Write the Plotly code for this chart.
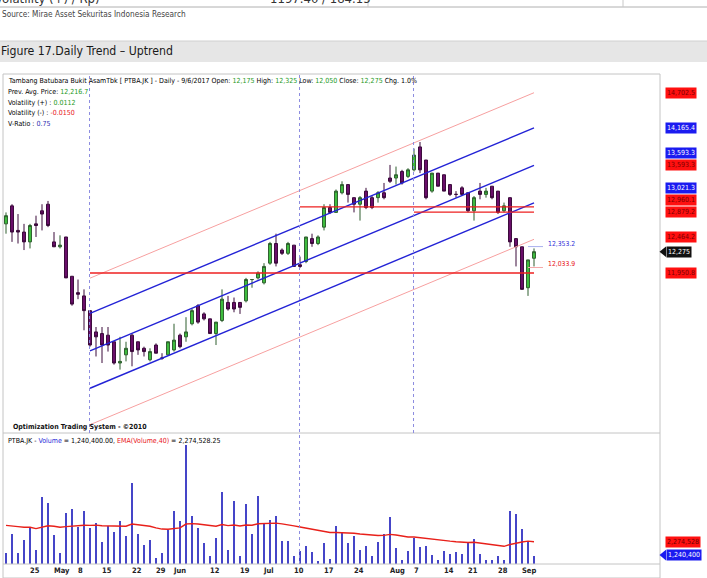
import plotly.graph_objects as go

# ---------------- data ----------------
days = list(range(1, 90))
opens = [12700, 12975, 12600, 12575, 12425, 12700, 12900, 13000, 12425, 12350,
         12500, 11900, 11650, 11600, 11375, 11050, 11025, 11000, 10900, 10575,
         10700, 11000, 10900, 10800, 10625, 10850, 10650, 10700, 10775, 11000,
         10975, 11175, 11450, 11325, 11250, 11025, 11225, 11500, 11500, 11500,
         11525, 11850, 11875, 11800, 12100, 12400, 12300, 12250, 12375, 12075,
         12125, 12475, 12400, 12650, 12950, 12875, 13175, 13300, 13100, 13000,
         13200, 13100, 13100, 13175, 13400, 13400, 13500, 13425, 13525, 13875,
         13675, 13200, 13475, 13450, 13300, 13150, 13250, 13175, 12900, 13200,
         13150, 13275, 13200, 12900, 13100, 12475, 12350, 11725, 12175]
highs = [12875, 13000, 12850, 12700, 12700, 12825, 13000, 13050, 12575, 12525,
         12500, 11900, 11850, 11700, 11375, 11125, 11125, 11125, 10900, 10975,
         10900, 11025, 10900, 10825, 10800, 10875, 10725, 10900, 11175, 11025,
         11275, 11400, 11475, 11350, 11250, 11200, 11700, 11600, 11575, 11500,
         11875, 11850, 11975, 12100, 12425, 12550, 12325, 12425, 12375, 12200,
         12500, 12550, 12525, 13000, 13000, 13225, 13350, 13300, 13100, 13125,
         13250, 13125, 13200, 13325, 13600, 13575, 13525, 13550, 13850, 13950,
         13675, 13475, 13475, 13450, 13300, 13200, 13275, 13175, 13125, 13325,
         13250, 13275, 13200, 13025, 13100, 12475, 12350, 12150, 12325]
lows = [12550, 12425, 12400, 12300, 12325, 12500, 12600, 12650, 12350, 12325,
        11875, 11450, 11550, 11075, 10825, 10675, 10575, 10750, 10550, 10475,
        10600, 10525, 10700, 10675, 10600, 10725, 10625, 10700, 10750, 10800,
        10900, 11150, 11175, 11225, 11025, 10850, 11200, 11375, 11350, 11325,
        11500, 11725, 11850, 11775, 12075, 12050, 12225, 12225, 12050, 12025,
        12100, 12350, 12375, 12600, 12850, 12875, 13150, 13025, 12875, 12750,
        12925, 12925, 13025, 13075, 13325, 13300, 13300, 13400, 13500, 13475,
        13075, 13175, 13275, 13200, 13125, 13100, 13125, 12875, 12750, 13075,
        13100, 13075, 12850, 12875, 12350, 12050, 11700, 11600, 12050]
closes = [12825, 12575, 12575, 12425, 12675, 12675, 12850, 12675, 12350, 12375,
          11875, 11475, 11625, 11375, 10850, 10975, 10850, 10850, 10575, 10600,
          10800, 10750, 10775, 10750, 10750, 10725, 10650, 10900, 10925, 10825,
          11050, 11375, 11200, 11250, 11025, 11200, 11550, 11400, 11400, 11425,
          11850, 11850, 11950, 12050, 12400, 12100, 12250, 12400, 12050, 12050,
          12500, 12400, 12500, 12950, 12875, 13200, 13300, 13150, 13000, 13100,
          12950, 12950, 13175, 13100, 13350, 13450, 13325, 13525, 13750, 13525,
          13100, 13475, 13275, 13200, 13150, 13150, 13150, 12900, 13100, 13150,
          13200, 13100, 12875, 12975, 12425, 12350, 11700, 12150, 12275]
volumes = [1.42, 2.93, 1.40, 2.46, 3.45, 1.71, 5.78, 5.34, 2.82, 1.42,
           4.54, 4.87, 3.45, 4.74, 3.37, 3.81, 2.33, 3.50, 3.11, 3.89,
           2.75, 6.87, 2.88, 2.07, 2.44, 1.06, 1.42, 3.19, 4.69, 3.89,
           9.80, 4.33, 3.37, 2.20, 1.24, 2.57, 6.17, 1.69, 5.52, 1.22,
           5.24, 2.88, 5.88, 3.68, 4.02, 4.33, 2.41, 2.41, 1.24, 1.56,
           1.97, 1.53, 0.78, 2.25, 0.96, 3.50, 3.03, 2.25, 2.75, 1.71,
           1.97, 1.19, 2.28, 2.95, 4.25, 1.81, 0.86, 1.63, 2.64, 1.94,
           2.02, 1.32, 0.86, 1.63, 1.37, 1.53, 1.37, 2.20, 2.49, 1.37,
           0.91, 0.91, 1.24, 0.91, 4.69, 4.48, 3.32, 2.41, 1.2404]
ema40 = [3.55, 3.52, 3.45, 3.40, 3.40, 3.30, 3.42, 3.52, 3.48, 3.40,
         3.45, 3.50, 3.50, 3.56, 3.55, 3.57, 3.52, 3.52, 3.49, 3.51,
         3.48, 3.65, 3.60, 3.53, 3.48, 3.35, 3.26, 3.25, 3.32, 3.35,
         3.65, 3.68, 3.65, 3.58, 3.50, 3.48, 3.61, 3.53, 3.58, 3.50,
         3.58, 3.56, 3.67, 3.67, 3.69, 3.72, 3.66, 3.60, 3.51, 3.42,
         3.34, 3.26, 3.15, 3.10, 2.99, 2.99, 2.98, 2.96, 2.94, 2.88,
         2.84, 2.76, 2.76, 2.77, 2.85, 2.80, 2.69, 2.64, 2.64, 2.58,
         2.55, 2.48, 2.40, 2.36, 2.32, 2.28, 2.23, 2.22, 2.24, 2.17,
         2.10, 2.03, 1.98, 1.92, 2.06, 2.18, 2.25, 2.32, 2.2745]
volumes = [v * 1e6 for v in volumes]
ema40 = [v * 1e6 for v in ema40]

tick_days = [5, 9, 13, 17, 22, 26, 29, 35, 40, 44, 49, 54, 59, 65, 69, 74, 78, 83, 87]
tick_text = ["25", "May", "8", "15", "22", "29", "Jun", "12", "19", "Jul",
             "10", "17", "24", "Aug", "7", "14", "21", "28", "Sep"]

# trend channel (start day, end day, start value, end value)
chan_x = [15, 89]
blue_upper = [11334.0, 14165.4]
blue_mid = [10762.0, 13593.3]
blue_lower = [10190.0, 13021.3]
pink_upper = [11871.0, 14702.5]
pink_lower = [9633.0, 12464.2]
# horizontal support / resistance levels: (start day, value)
hlines_start = [15, 50, 69]
hlines_value = [11950.8, 12960.1, 12879.2]
marker_days = [15, 50, 69]

level_values = [14702.5, 14165.4, 13593.3, 13593.3, 13021.3, 12960.1, 12879.2, 12464.2, 11950.8]
level_kind = ["r", "b", "b", "r", "b", "r", "r", "r", "r"]
last_close = closes[-1]
inline_vals = [12353.2, 12033.9]
prev_avg = 12216.7
vol_pos, vol_neg, v_ratio = 0.0112, -0.0150, 0.75
vol_last = volumes[-1]
ema_last = 2274528.25

# ---------------- geometry helpers ----------------
W, H = 707, 578
PL, PR, PT, PB = 3, 660, 75, 564
MAIN_BOTTOM = 433
VOL_TOP = 434.5


def px(x):
    return (x - PL) / (PR - PL)


def py(y):
    return (PB - y) / (PB - PT)


FONT = "Liberation Sans Narrow, DejaVu Sans Condensed, Roboto Condensed, Arial Narrow, sans-serif"
GREEN = "#1d9a1d"
RED = "#e8141a"
BLUE = "#2a2ad8"

fig = go.Figure()

fig.add_trace(go.Candlestick(
    x=days, open=opens, high=highs, low=lows, close=closes,
    xaxis="x", yaxis="y",
    increasing=dict(line=dict(color="#2f5f2f", width=1), fillcolor="#3fbf3f"),
    decreasing=dict(line=dict(color="#3a0a3a", width=1), fillcolor="#6b0f6b"),
    whiskerwidth=0, showlegend=False, hoverinfo="skip"))

for vals, col, wd in [(pink_upper, "#f7a0a0", 1), (pink_lower, "#f7a0a0", 1),
                      (blue_upper, "#2323d6", 1.4), (blue_mid, "#2323d6", 1.4),
                      (blue_lower, "#2323d6", 1.4)]:
    fig.add_trace(go.Scatter(x=chan_x, y=vals, mode="lines", yaxis="y",
                             line=dict(color=col, width=wd), showlegend=False,
                             hoverinfo="skip"))

for s, v in zip(hlines_start, hlines_value):
    fig.add_trace(go.Scatter(x=[s, chan_x[1]], y=[v, v], mode="lines", yaxis="y",
                             line=dict(color="#ee2020", width=1.4), showlegend=False,
                             hoverinfo="skip"))

for v, col in zip(inline_vals, ["#aab0ee", "#f5a8a8"]):
    fig.add_trace(go.Scatter(x=[88, 90.5], y=[v, v], mode="lines", yaxis="y",
                             line=dict(color=col, width=1), showlegend=False,
                             hoverinfo="skip"))

fig.add_trace(go.Bar(x=days, y=volumes, yaxis="y2", width=0.38,
                     marker=dict(color="#4545c8", line=dict(width=0)),
                     showlegend=False, hoverinfo="skip"))
fig.add_trace(go.Scatter(x=days, y=ema40, yaxis="y2", mode="lines",
                         line=dict(color="#e8201a", width=1.4), showlegend=False,
                         hoverinfo="skip"))

shapes = []
# page header pieces
shapes.append(dict(type="line", xref="paper", yref="paper", x0=px(0), x1=px(707),
                   y0=py(7), y1=py(7), line=dict(color="#b0b0b0", width=1)))
for xv in [368, 623]:
    shapes.append(dict(type="line", xref="paper", yref="paper", x0=px(xv), x1=px(xv),
                       y0=py(0), y1=py(7), line=dict(color="#c8c8c8", width=1)))
shapes.append(dict(type="rect", xref="paper", yref="paper", x0=px(0), x1=px(707),
                   y0=py(62), y1=py(41), fillcolor="#e6e6e6",
                   line=dict(width=0), layer="below"))
shapes.append(dict(type="line", xref="paper", yref="paper", x0=px(0), x1=px(707),
                   y0=py(41), y1=py(41), line=dict(color="#d0d0d0", width=1)))
# chart frame
shapes.append(dict(type="rect", xref="paper", yref="paper", x0=0, x1=1,
                   y0=py(578), y1=py(74), line=dict(color="#c4c4c4", width=1)))
shapes.append(dict(type="line", xref="paper", yref="paper", x0=0, x1=1,
                   y0=py(MAIN_BOTTOM), y1=py(MAIN_BOTTOM), line=dict(color="#c4c4c4", width=1)))
shapes.append(dict(type="line", xref="paper", yref="paper", x0=0, x1=1,
                   y0=0, y1=0, line=dict(color="#c4c4c4", width=1)))
# vertical markers
for d in marker_days:
    ybot = 0 if d == 50 else py(MAIN_BOTTOM)
    shapes.append(dict(type="line", xref="x", yref="paper", x0=d - 0.08, x1=d - 0.08,
                       y0=ybot, y1=1, line=dict(color="#8c8ce0", width=1, dash="dot")))
# arrows for current value tags
shapes.append(dict(type="path", xref="paper", yref="y",
                   path=f"M {px(659.5)},{last_close} L {px(666)},{last_close + 80} L {px(666)},{last_close - 80} Z",
                   fillcolor="#111111", line=dict(width=0)))
shapes.append(dict(type="path", xref="paper", yref="y2",
                   path=f"M {px(659.5)},{vol_last} L {px(666)},{vol_last + 420000} L {px(666)},{vol_last - 420000} Z",
                   fillcolor="#1b1bf0", line=dict(width=0)))

ann = []


def text(x, y, s, size=8, color="#111", anchor="left", yanchor="middle", bold=False, family=FONT):
    ann.append(dict(xref="paper", yref="paper", x=px(x), y=py(y), text=(f"<b>{s}</b>" if bold else s),
                    showarrow=False, xanchor=anchor, yanchor=yanchor,
                    font=dict(family=family, size=size, color=color)))


def fmt(v, nd=0):
    return f"{v:,.{nd}f}"


# page texts (top table row is cut by the page edge, as in the source)
text(-7, 8.5, "Volatility (+) / Rp)", size=13, color="#333", yanchor="bottom")
text(268, 8.5, "1197.40 / 184.15", size=13, color="#333", yanchor="bottom")
text(0, 14.5, "Source: Mirae Asset Sekuritas Indonesia Research", size=8.2, color="#444")
text(-1, 51.5, "Figure 17.Daily Trend \u2013 Uptrend", size=12.2, color="#1a1a1a")

g = lambda v: f"<span style='color:{GREEN}'>{v}</span>"
chg = (closes[-1] - closes[-2]) / closes[-2] * 100
head = (f"Tambang Batubara Bukit AsamTbk [ PTBA.JK ] - Daily - 9/6/2017 Open: {g(fmt(opens[-1]))} "
        f"High: {g(fmt(highs[-1]))} Low: {g(fmt(lows[-1]))} Close: {g(fmt(closes[-1]))} Chg. {chg:.1f}%")
text(6, 80.5, head, size=7, color="#000")
text(6, 91.5, f"Prev. Avg. Price: {g(fmt(prev_avg, 1))}", size=7, color="#000")
text(6, 102.5, f"Volatility (+) : {g(f'{vol_pos:.4f}')}", size=7, color="#000")
text(6, 113.5, f"Volatility (-) : <span style='color:{RED}'>{vol_neg:.4f}</span>", size=7, color="#000")
text(6, 124.5, f"V-Ratio : <span style='color:#3030b0'>{v_ratio:.2f}</span>", size=7, color="#000")
text(11, 427, "Optimization Trading System - \u00a92010", size=7, bold=True)
text(6, 440.5, (f"PTBA.JK - <span style='color:{BLUE}'>Volume</span> = {vol_last:,.2f}, "
                f"<span style='color:{RED}'>EMA(Volume,40)</span> = {ema_last:,.2f}"), size=7, color="#000")

# in-chart value tags
for v, col in zip(inline_vals, ["#3434d8", RED]):
    ann.append(dict(xref="x", yref="y", x=91.0, y=v, yshift=3, text=fmt(v, 1), showarrow=False,
                    xanchor="left", yanchor="middle", font=dict(family=FONT, size=6.8, color=col)))

# right axis tags
shift_px = [0, 0, 12.7, 0, 14.5, 6.8, 0, 2.6, 0]
for v, k, sh in zip(level_values, level_kind, shift_px):
    bg = "#ff1010" if k == "r" else "#1b1bf0"
    fc = "#7a0000" if k == "r" else "#ffffff"
    ann.append(dict(xref="paper", yref="y", x=px(665), y=v, yshift=sh, text=fmt(v, 1),
                    showarrow=False, xanchor="left", yanchor="middle", bgcolor=bg, borderpad=1,
                    font=dict(family=FONT, size=7, color=fc)))
ann.append(dict(xref="paper", yref="y", x=px(666), y=last_close, text=fmt(last_close),
                showarrow=False, xanchor="left", yanchor="middle", bgcolor="#111111", borderpad=1,
                font=dict(family=FONT, size=7, color="#ffffff")))
ann.append(dict(xref="paper", yref="y2", x=px(665), y=ema_last, text=fmt(ema_last),
                showarrow=False, xanchor="left", yanchor="middle", bgcolor="#ff1010", borderpad=1,
                font=dict(family=FONT, size=7, color="#6a0000")))
ann.append(dict(xref="paper", yref="y2", x=px(666), y=vol_last, text=fmt(vol_last),
                showarrow=False, xanchor="left", yanchor="middle", bgcolor="#1b1bf0", borderpad=1,
                font=dict(family=FONT, size=7, color="#ffffff")))

price_top = 12275 + (251.7 - PT) * 15.27
price_bot = 12275 - (MAIN_BOTTOM - 251.7) * 15.27
vol_per_px = 77754.0

fig.update_layout(
    width=W, height=H,
    margin=dict(l=PL, r=W - PR, t=PT, b=H - PB),
    paper_bgcolor="white", plot_bgcolor="white",
    showlegend=False, bargap=0,
    xaxis=dict(range=[0.5, 110], anchor="y2", domain=[0, 1],
               tickmode="array", tickvals=tick_days, ticktext=[f"<b>{t}</b>" for t in tick_text],
               ticklabelposition="outside right", tickangle=0, ticks="", showgrid=False,
               zeroline=False, showline=False, rangeslider=dict(visible=False),
               tickfont=dict(family=FONT, size=7.5, color="#222")),
    yaxis=dict(domain=[py(MAIN_BOTTOM), 1], range=[price_bot, price_top], visible=False,
               showgrid=False, zeroline=False),
    yaxis2=dict(domain=[0, py(VOL_TOP)], range=[(571 - PB) * vol_per_px, (571 - VOL_TOP) * vol_per_px],
                visible=False, showgrid=False, zeroline=False),
    shapes=shapes, annotations=ann,
)

fig.write_html("out.html")
